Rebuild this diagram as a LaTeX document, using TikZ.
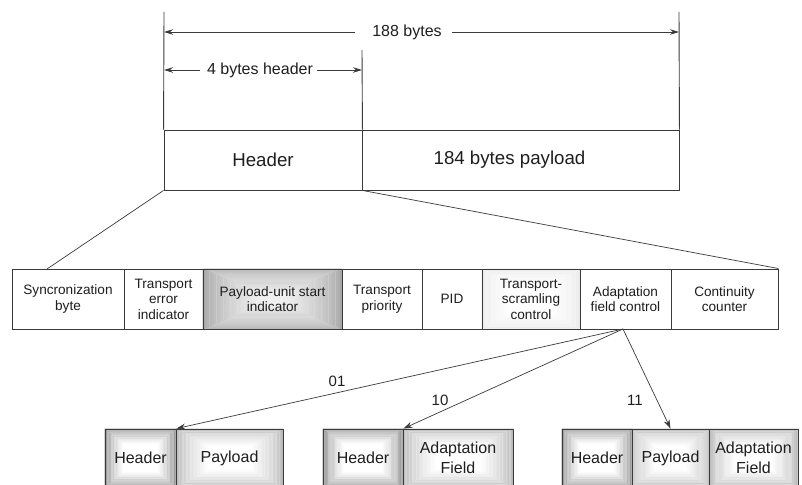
\documentclass[tikz,border=0pt]{standalone}
\usepackage{fontspec}
\setmainfont{Liberation Sans}
\usetikzlibrary{arrows.meta,calc,backgrounds}

\definecolor{ink}{HTML}{1E1E1E}
\definecolor{rule}{HTML}{3A3A3A}
\definecolor{hdredge}{HTML}{888888}
\definecolor{payedge}{HTML}{B6B6B6}
\definecolor{pusiedge}{HTML}{A6A6A6}
\definecolor{pusimid}{HTML}{F0F0F0}
\definecolor{tscedge}{HTML}{EAEAEA}

% pillow-like glow behind node #1: concentric rectangular rings, centred on
% the node, blending from the edge colour #2 to the centre colour #3, which
% is reached at inset fraction #4 of the node's size
\newcommand\cellglow[4]{%
  \fill[#3]
    let \p1=(#1.south west), \p2=(#1.north east) in
    (\x1,\y1) rectangle (\x2,\y2);
  \foreach \gk in {0,...,23}{
    \pgfmathsetmacro\glowmix{100*(\gk/24)^0.7}
    \pgfmathsetmacro\glowa{1-2*#4*\gk/24}
    \pgfmathsetmacro\glowb{1-2*#4*(\gk+1)/24}
    \fill[#3!\glowmix!#2, even odd rule]
      let \p1=(#1.south west), \p2=(#1.north east), \p3=(#1.center) in
      ({\x3-0.5*\glowa*(\x2-\x1)},{\y3-0.5*\glowa*(\y2-\y1)}) rectangle
      ({\x3+0.5*\glowa*(\x2-\x1)},{\y3+0.5*\glowa*(\y2-\y1)})
      ({\x3-0.5*\glowb*(\x2-\x1)},{\y3-0.5*\glowb*(\y2-\y1)}) rectangle
      ({\x3+0.5*\glowb*(\x2-\x1)},{\y3+0.5*\glowb*(\y2-\y1)});
  }}

\begin{document}
\begin{tikzpicture}[x=1pt,y=1pt,
  every node/.style={text=ink},
  ln/.style={draw=rule, line width=0.9pt},
  dim/.style={ln, -{Stealth[length=9pt,width=5.5pt]}},
  flow/.style={ln, line width=0.7pt, -{Stealth[length=9pt,width=6pt]}},
  big/.style={font=\fontsize{18.7}{22}\selectfont},
  dimlabel/.style={font=\fontsize{16}{19}\selectfont, inner sep=0pt},
  cell/.style={ln, inner sep=0pt, align=center, minimum height=60pt,
               font=\fontsize{13.6}{15.5}\selectfont},
  part/.style={ln, inner sep=0pt, align=center, minimum height=58pt,
               font=\fontsize{16}{19.5}\selectfont},
  code/.style={font=\fontsize{15}{18}\selectfont, inner sep=0pt}]

\useasboundingbox (0,0) rectangle (802,484);
\clip (0,0) rectangle (802,484);

% ---- 188-byte transport packet ----
\node[ln, big, minimum width=198pt, minimum height=60pt, inner sep=0pt] (hdr) at (263,324) {Header};
\node[ln, minimum width=317pt, minimum height=60pt, inner sep=0pt,
      label={[big, xshift=-11pt]center:184 bytes payload}] (pay) at (520.5,324) {};

\coordinate (tl) at (164,472);
\coordinate (tr) at (679,472);
\coordinate (tm) at (362,434);
\draw[ln] (tl) -- (hdr.north west);
\draw[ln] (tr) -- (pay.north east);
\draw[ln] (tm) -- (hdr.north east);

% dimension arrows
\node[dimlabel] (l188) at (407,452) {188 bytes};
\coordinate (a188l) at (164,452);
\coordinate (a188r) at (679,452);
\draw[dim] ($(l188.west)+(-17,0)$) -- (a188l);
\draw[dim] ($(l188.east)+(10,0)$) -- (a188r);

\node[dimlabel] (l4) at (260,414) {4 bytes header};
\coordinate (a4l) at (164,414);
\coordinate (a4r) at (362,414);
\draw[dim] ($(l4.west)+(-7,0)$) -- (a4l);
\draw[dim] ($(l4.east)+(4,0)$) -- (a4r);

% ---- header fields ----
\node[cell, minimum width=112pt] (sync) at (68,185) {Syncronization\\byte};
\node[cell, minimum width=79pt]  (terr) at (163.5,185) {Transport\\error\\indicator};
\node[cell, minimum width=139pt] (pusi) at (272.5,185) {Payload-unit start\\indicator};
\node[cell, minimum width=80pt]  (tpri) at (382,185) {Transport\\priority};
\node[cell, minimum width=60pt]  (pid)  at (452,185) {PID};
\node[cell, minimum width=98pt]  (tsc)  at (531,185) {Transport-\\scramling\\control};
\node[cell, minimum width=91pt]  (afc)  at (625.5,185) {Adaptation\\field control};
\node[cell, minimum width=107pt] (cc)   at (724.5,185) {Continuity\\counter};

% zoom lines from the header to its fields
\coordinate (zl) at (47,215);
\draw[ln, line width=0.7pt] (hdr.south west) -- (zl);
\draw[ln, line width=0.7pt] (hdr.south east) -- (cc.north east);

% ---- packet layouts chosen by adaptation field control ----
\node[part, minimum width=71pt]  (b1h) at (140.5,26) {Header};
\node[part, minimum width=107pt] (b1p) at (229.5,26) {Payload};

\node[part, minimum width=80pt]  (b2h) at (363,26) {Header};
\node[part, minimum width=110pt] (b2a) at (458,26) {Adaptation\\Field};

\node[part, minimum width=70pt]  (b3h) at (597,26) {Header};
\node[part, minimum width=77pt]  (b3p) at (670.5,26) {Payload};
\node[part, minimum width=89pt]  (b3a) at (753.5,26) {Adaptation\\Field};

\coordinate (afcout) at (623,155);
\draw[flow] (afcout) -- (b1h.north east);
\draw[flow] (afcout) -- (b2h.north east);
\draw[flow] (afcout) -- (b3p.north);

\node[code] (c01) at (337,103) {01};
\node[code] (c10) at (440,84) {10};
\node[code] (c11) at (635,84) {11};

% shaded fills under the cells
\begin{scope}[on background layer]
  \cellglow{pusi}{pusiedge}{pusimid}{0.40}
  \cellglow{tsc}{tscedge}{white}{0.30}
  \cellglow{b1h}{hdredge}{white}{0.26}
  \cellglow{b2h}{hdredge}{white}{0.26}
  \cellglow{b3h}{hdredge}{white}{0.26}
  \cellglow{b1p}{payedge}{white}{0.30}
  \cellglow{b2a}{payedge}{white}{0.30}
  \cellglow{b3p}{payedge}{white}{0.30}
  \cellglow{b3a}{payedge}{white}{0.30}
\end{scope}

\end{tikzpicture}
\end{document}
